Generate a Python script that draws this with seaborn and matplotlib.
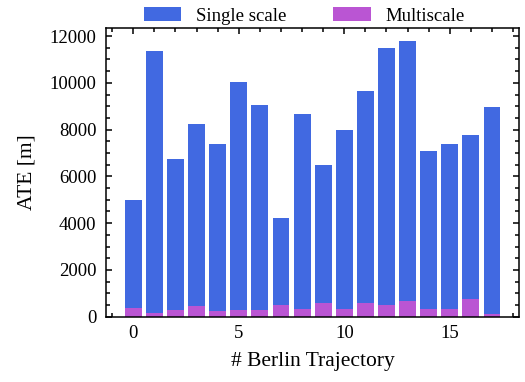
import numpy as np
import pandas as pd
import matplotlib
matplotlib.use("Agg")
import matplotlib.pyplot as plt
from matplotlib.ticker import MultipleLocator
import seaborn as sns

trajectory = list(range(18))
single_scale = [4980, 11345, 6733, 8228, 7374, 10021, 9039, 4214, 8655,
                6477, 7972, 9637, 11473, 11772, 7075, 7374, 7758, 8954]
multiscale = [384, 157, 285, 470, 242, 285, 285, 498, 335,
              584, 327, 584, 498, 669, 327, 327, 754, 114]
labels = ["Single scale", "Multiscale"]

sns.set_style("ticks")
plt.rcParams["font.family"] = ["Liberation Serif", "DejaVu Serif"]
plt.rcParams.update({
    "font.size": 13.5,
    "axes.linewidth": 1.1,
    "xtick.direction": "in", "ytick.direction": "in",
    "xtick.top": True, "ytick.right": True,
    "xtick.major.size": 4.5, "ytick.major.size": 4.5,
    "xtick.minor.size": 2.7, "ytick.minor.size": 2.7,
    "xtick.major.width": 1.1, "ytick.major.width": 1.1,
    "xtick.minor.width": 1.1, "ytick.minor.width": 1.1,
    "xtick.minor.visible": True, "ytick.minor.visible": True,
    "xtick.color": "black", "ytick.color": "black",
    "axes.edgecolor": "black", "text.color": "black",
    "axes.labelcolor": "black",
})

df = pd.DataFrame({"traj": trajectory, "single": single_scale, "multi": multiscale})

fig = plt.figure(figsize=(5.25, 3.82), dpi=100)
ax = fig.add_axes([0.202, 0.171, 0.787, 0.7565])

sns.barplot(data=df, x="traj", y="single", color="#4169E1", saturation=1,
            native_scale=True, width=0.8, ax=ax, label=labels[0], linewidth=0)
sns.barplot(data=df, x="traj", y="multi", color="#BA55D3", saturation=1,
            native_scale=True, width=0.8, ax=ax, label=labels[1], linewidth=0)

ax.set_xlim(-1.29, 18.29)
ax.set_ylim(0, 12360)
ax.xaxis.set_major_locator(MultipleLocator(5))
ax.xaxis.set_minor_locator(MultipleLocator(1))
ax.yaxis.set_major_locator(MultipleLocator(2000))
ax.yaxis.set_minor_locator(MultipleLocator(500))
ax.tick_params(which="both", top=True, right=True, direction="in", labelsize=13.5)
ax.tick_params(axis="y", which="major", pad=7)
ax.tick_params(axis="x", which="major", pad=6)
ax.set_xlabel("# Berlin Trajectory", fontsize=15.5, labelpad=7)
ax.set_ylabel("ATE [m]", fontsize=15.5, labelpad=9)
for s in ax.spines.values():
    s.set_visible(True)

ax.legend(loc="lower center", bbox_to_anchor=(0.48, 0.985), ncol=2, frameon=False,
          fontsize=13.5, handlelength=2.0, handleheight=0.75, columnspacing=2.5,
          borderaxespad=0.0)

fig.savefig("out.png", dpi=100)
